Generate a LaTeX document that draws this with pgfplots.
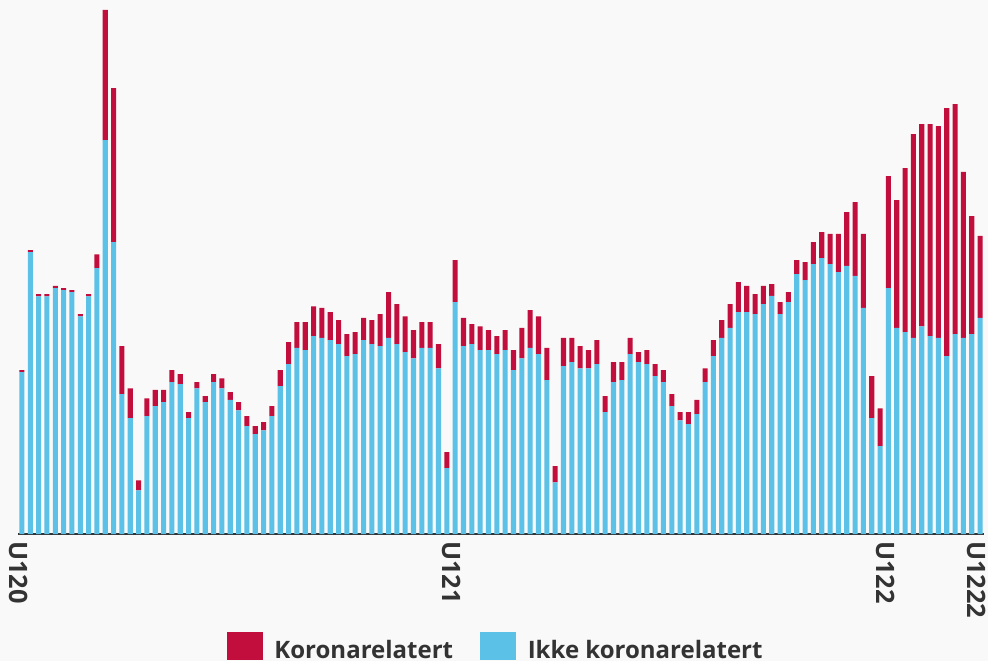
\documentclass[border=0pt]{standalone}
\usepackage{fontspec}
\setmainfont{Open Sans}
\usepackage{pgfplots}
\usepackage{pgfplotstable}
\pgfplotsset{compat=1.18}

\definecolor{bg}{HTML}{F9F9F9}
\definecolor{korona}{HTML}{C20E3D}
\definecolor{ikke}{HTML}{5CC1E6}
\definecolor{txt}{HTML}{333333}

% week index, ikke koronarelatert, koronarelatert
\pgfplotstableread{
x ikke korona
1 47.0 0.6
2 81.8 0.6
3 69.0 0.6
4 69.0 0.6
5 71.4 0.6
6 70.8 0.6
7 70.2 0.6
8 63.2 0.6
9 69.0 0.6
10 77.2 4.0
11 114.3 37.8
12 84.7 44.7
13 40.6 13.9
14 33.6 8.7
15 12.7 2.9
16 34.2 5.2
17 37.1 4.7
18 38.3 3.5
19 44.1 3.5
20 43.5 2.9
21 33.6 1.8
22 42.3 1.8
23 38.3 1.7
24 44.1 2.3
25 42.3 2.9
26 38.9 2.3
27 35.9 2.4
28 31.3 2.9
29 29.0 2.3
30 30.1 2.4
31 34.2 2.9
32 42.9 4.7
33 49.3 6.4
34 54.0 7.5
35 53.4 8.1
36 57.4 8.7
37 56.9 8.7
38 56.3 8.1
39 55.1 7.0
40 51.6 6.4
41 52.2 6.4
42 56.3 6.4
43 55.1 7.0
44 54.5 9.3
45 56.9 13.3
46 55.1 11.6
47 52.8 10.4
48 51.0 8.2
49 54.0 7.5
50 54.0 7.5
51 48.1 7.0
52 19.1 4.7
53 67.3 12.2
54 54.5 8.2
55 55.1 5.8
56 53.4 6.9
57 53.4 5.8
58 52.2 5.2
59 53.4 5.8
60 47.6 5.8
61 51.0 8.8
62 54.0 11.0
63 52.2 11.0
64 44.7 9.3
65 15.0 4.7
66 48.7 8.2
67 49.9 7.0
68 48.1 6.4
69 48.1 5.3
70 49.3 7.0
71 35.4 4.6
72 44.1 5.8
73 44.7 5.2
74 52.2 4.7
75 49.9 2.9
76 49.3 4.1
77 45.8 3.5
78 44.1 3.5
79 37.1 3.5
80 33.0 2.4
81 31.9 3.5
82 34.8 4.1
83 44.1 4.0
84 51.6 4.7
85 56.9 5.2
86 59.8 6.9
87 64.4 8.7
88 64.4 7.6
89 63.8 5.8
90 66.7 5.3
91 69.1 3.4
92 63.8 3.5
93 67.3 2.9
94 75.4 4.1
95 73.7 5.2
96 78.3 6.4
97 80.1 7.5
98 78.3 8.8
99 76.0 11.1
100 77.8 15.6
101 74.9 21.4
102 65.6 21.5
103 33.6 12.2
104 25.5 11.0
105 71.4 32.5
106 59.8 37.1
107 58.6 47.6
108 56.9 59.2
109 60.3 58.7
110 57.4 61.6
111 56.9 61.5
112 51.6 72.0
113 58.0 66.8
114 56.9 48.2
115 58.0 34.3
116 62.7 23.8
}\weeks

\begin{document}
\begin{tikzpicture}
\fill[bg] (0,0) rectangle (741pt,495.75pt);
\useasboundingbox (0,0) rectangle (741pt,495.75pt);
\begin{axis}[
  at={(13.35pt,95.25pt)}, anchor=south west,
  scale only axis, width=724.8pt, height=400.5pt,
  ybar stacked, bar width=3.8pt,
  xmin=0.5, xmax=116.5, ymin=0, ymax=155,
  axis x line*=bottom, axis y line=none,
  x axis line style={draw=txt, line width=1.1pt, -},
  xtick={1,53,105,116},
  xticklabels={\textbf{U120},\textbf{U121},\textbf{U122},\textbf{U1222}},
  major tick length=0pt,
  xticklabel style={rotate=-90, anchor=west, text=txt,
    font=\fontsize{19}{22}\selectfont, yshift=-2.5pt, xshift=2pt},
  legend columns=2,
  legend style={at={(0.495,0)}, anchor=north, yshift=-73pt,
    draw=none, fill=none, inner sep=0pt,
    font=\fontsize{18}{21}\selectfont\bfseries, text=txt,
    /tikz/every odd column/.append style={column sep=6.5pt},
    /tikz/every even column/.append style={column sep=18.5pt}},
  legend image code/.code={\fill[#1] (0pt,-7.25pt) rectangle (27pt,13.75pt);},
]
\addplot[fill=ikke, draw=none, forget plot] table[x=x, y=ikke] {\weeks};
\addplot[fill=korona, draw=none, forget plot] table[x=x, y=korona] {\weeks};
\addlegendimage{fill=korona, draw=none}
\addlegendentry{Koronarelatert}
\addlegendimage{fill=ikke, draw=none}
\addlegendentry{Ikke koronarelatert}
\end{axis}
\end{tikzpicture}
\end{document}
